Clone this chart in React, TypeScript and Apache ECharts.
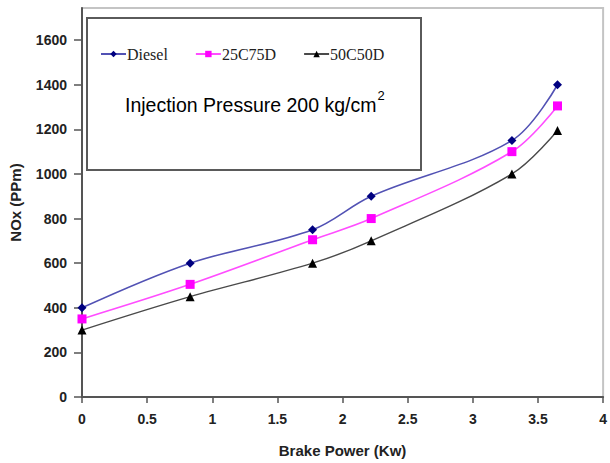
import React, { useEffect, useRef } from "react";
import * as echarts from "echarts";

const powerKw = [0, 0.83, 1.77, 2.22, 3.3, 3.65];
const diesel = [400, 600, 750, 900, 1150, 1400];
const b25c75d = [350, 505, 705, 800, 1100, 1305];
const b50c50d = [300, 450, 600, 700, 1000, 1195];
const yTicks = [0, 200, 400, 600, 800, 1000, 1200, 1400, 1600];
const seriesNames = ["Diesel", "25C75D", "50C50D"];

const pairs = (ys: number[]) => powerKw.map((x, i) => [x, ys[i]]);

export default function App() {
  const ref = useRef<HTMLDivElement>(null);
  useEffect(() => {
    if (!ref.current) return;
    const chart = echarts.init(ref.current, undefined, { renderer: "svg" });
    const labelFont = {
      fontFamily: "Liberation Sans, Arial, sans-serif",
      fontWeight: "bold" as const,
      fontSize: 14,
      color: "#222",
    };
    chart.setOption({
      animation: false,
      backgroundColor: "#fff",
      grid: {
        left: 79,
        top: 8,
        right: 4,
        bottom: 60,
        show: true,
        borderColor: "#c4c4c4",
        borderWidth: 2,
        backgroundColor: "#fff",
      },
      legend: {
        left: 95,
        top: 41,
        itemWidth: 25,
        itemHeight: 8,
        itemGap: 27,
        z: 10,
        data: seriesNames,
        textStyle: {
          fontFamily: "Liberation Serif, Times New Roman, serif",
          fontSize: 16,
          color: "#222",
          padding: [0, 0, 0, -4],
        },
      },
      xAxis: {
        type: "value",
        min: 0,
        max: 4,
        interval: 0.5,
        name: "Brake Power (Kw)",
        nameLocation: "middle",
        nameGap: 46,
        nameTextStyle: { ...labelFont, fontSize: 15 },
        splitLine: { show: false },
        axisLine: { lineStyle: { color: "#555", width: 2 } },
        axisTick: { length: 6, lineStyle: { color: "#555", width: 1.5 } },
        axisLabel: { ...labelFont, margin: 15, formatter: (v: number) => String(v) },
      },
      yAxis: {
        type: "value",
        min: 0,
        max: 1744,
        name: "NOx (PPm)",
        nameLocation: "middle",
        nameGap: 59,
        nameTextStyle: { ...labelFont, fontSize: 15 },
        splitLine: { show: false },
        axisLine: { show: true, lineStyle: { color: "#555", width: 2 } },
        axisTick: {
          show: true,
          length: 8,
          customValues: yTicks,
          lineStyle: { color: "#555", width: 1.5 },
        },
        axisLabel: {
          ...labelFont,
          margin: 15,
          customValues: yTicks,
          formatter: (v: number) => String(v),
        },
      },
      graphic: [
        {
          type: "rect",
          z: 5,
          shape: { x: 87, y: 18, width: 334, height: 152 },
          style: { fill: "#fff", stroke: "#5a5a5a", lineWidth: 2 },
        },
        {
          type: "text",
          z: 6,
          left: 125,
          top: 89,
          style: {
            text: "{a|Injection Pressure 200 kg/cm}{b|2}",
            rich: {
              a: {
                fontFamily: "Liberation Sans, Arial, sans-serif",
                fontSize: 19.5,
                color: "#444",
                verticalAlign: "bottom",
                lineHeight: 26,
              },
              b: {
                fontFamily: "Liberation Sans, Arial, sans-serif",
                fontSize: 13,
                color: "#444",
                verticalAlign: "top",
                lineHeight: 26,
                padding: [0, 0, 0, 1],
              },
            },
          },
        },
      ],
      series: [
        {
          name: seriesNames[0],
          type: "line",
          smooth: 0.35,
          data: pairs(diesel),
          symbol: "diamond",
          symbolSize: 9,
          lineStyle: { color: "#5252b4", width: 1.6 },
          itemStyle: { color: "#000080" },
        },
        {
          name: seriesNames[1],
          type: "line",
          smooth: 0.35,
          data: pairs(b25c75d),
          symbol: "rect",
          symbolSize: 9,
          lineStyle: { color: "#ff4dff", width: 1.6 },
          itemStyle: { color: "#ff00ff" },
        },
        {
          name: seriesNames[2],
          type: "line",
          smooth: 0.35,
          data: pairs(b50c50d),
          symbol: "triangle",
          symbolSize: 9,
          lineStyle: { color: "#4a4a4a", width: 1.4 },
          itemStyle: { color: "#000" },
        },
      ],
    });
    return () => chart.dispose();
  }, []);
  return (
    <div
      ref={ref}
      style={{ width: 610, height: 463, position: "absolute", left: 0, top: 0 }}
    />
  );
}
